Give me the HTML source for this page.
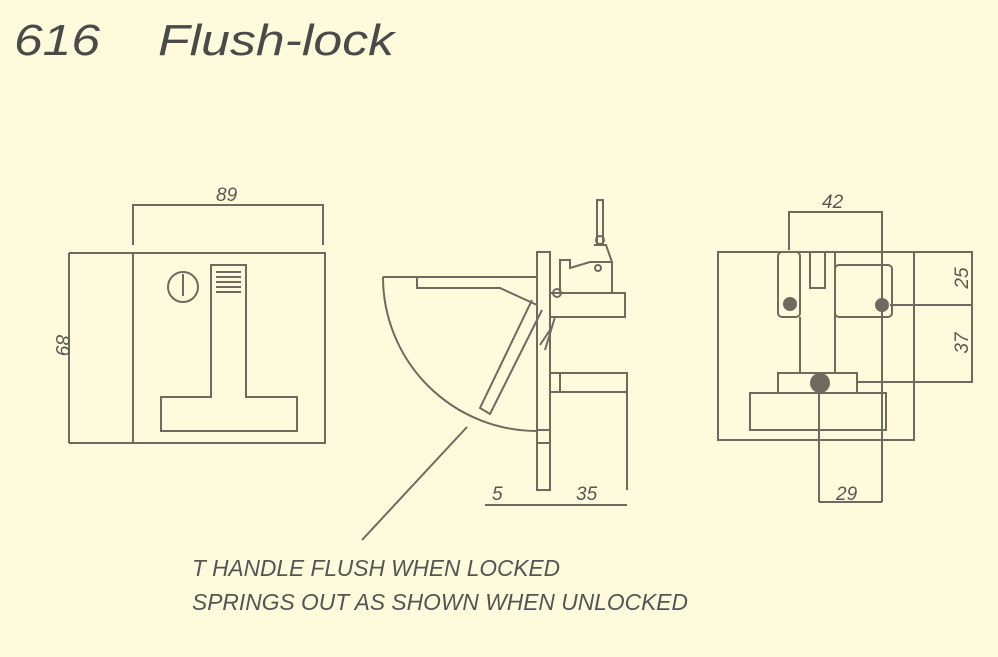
<!DOCTYPE html>
<html><head><style>
html,body{margin:0;padding:0;background:#fefbdc;}
svg{display:block;}
</style></head><body>
<svg width="998" height="657" viewBox="0 0 998 657" xmlns="http://www.w3.org/2000/svg">
<rect width="998" height="657" fill="#fefbdc"/>
<g font-family="Liberation Sans, sans-serif" font-style="italic" fill="#4a4a4a">
<text x="14" y="55" font-size="44" textLength="86" lengthAdjust="spacingAndGlyphs">616</text>
<text x="158" y="55" font-size="44" textLength="236" lengthAdjust="spacingAndGlyphs">Flush-lock</text>
<text x="192" y="576" font-size="23" fill="#555" textLength="368" lengthAdjust="spacingAndGlyphs">T HANDLE FLUSH WHEN LOCKED</text>
<text x="192" y="610" font-size="23" fill="#555" textLength="496" lengthAdjust="spacingAndGlyphs">SPRINGS OUT AS SHOWN WHEN UNLOCKED</text>
</g>
<g fill="none" stroke="#6e6a60" stroke-width="2">
<!-- left view -->
<path d="M133 245V205H323V245"/>
<rect x="133" y="253" width="192" height="190"/>
<path d="M69 253H133M69 443H133M69 253V443"/>
<circle cx="183" cy="287" r="15"/>
<path d="M183 274V296"/>
<path d="M211 397V265H246V397H297V431H161V397Z"/>
<path d="M216 272H241M216 277H241M216 282H241M216 287H241M216 292H241"/>
<!-- middle view -->
<path d="M383 277H537"/>
<path d="M383 277A154 154 0 0 0 537 431"/>
<rect x="537" y="252" width="13" height="238"/>
<path d="M417 277V288H500L537 305"/>
<path d="M532 300L480 408L490 414L542 310"/>
<path d="M550 293H625V317H550M560 293V260H570V268L590 262H612V293"/>
<circle cx="598" cy="268" r="3"/>
<circle cx="557" cy="293" r="4"/>
<path d="M597 245V200H603V245M594 245H606L612 262"/>
<circle cx="600" cy="240" r="4"/>
<path d="M550 330L540 345M555 317L545 350"/>
<path d="M550 373H627V392H550M627 373V490M560 373V392"/>
<path d="M537 430H550M537 443H550"/>
<path d="M485 505H627"/>
<path d="M467 427L362 540"/>
<!-- right view -->
<path d="M789 250V212H882V502M819 393V502M819 502H882"/>
<rect x="718" y="252" width="196" height="188"/>
<path d="M914 252H973M890 305H973M857 382H973M972 252V382"/>
<rect x="778" y="252" width="22" height="65" rx="4"/>
<rect x="810" y="252" width="15" height="36"/>
<path d="M800 317V373M835 252V373"/>
<rect x="835" y="265" width="57" height="52" rx="4"/>
<rect x="778" y="373" width="79" height="20"/>
<rect x="750" y="393" width="136" height="37"/>
</g>
<g fill="#6e6a60">
<circle cx="790" cy="304" r="7"/>
<circle cx="882" cy="305" r="7"/>
<circle cx="820" cy="383" r="10"/>
</g>
<g font-family="Liberation Sans, sans-serif" font-style="italic" font-size="19" fill="#5a5750">
<text x="216" y="201">89</text>
<text x="0" y="0" transform="translate(56,345) rotate(90)" text-anchor="middle">89</text>
<text x="492" y="500">5</text>
<text x="576" y="500">35</text>
<text x="822" y="208">42</text>
<text x="836" y="500">29</text>
<text x="0" y="0" transform="translate(968,278) rotate(-90)" text-anchor="middle">25</text>
<text x="0" y="0" transform="translate(968,343) rotate(-90)" text-anchor="middle">37</text>
</g>
</svg>
</body></html>
